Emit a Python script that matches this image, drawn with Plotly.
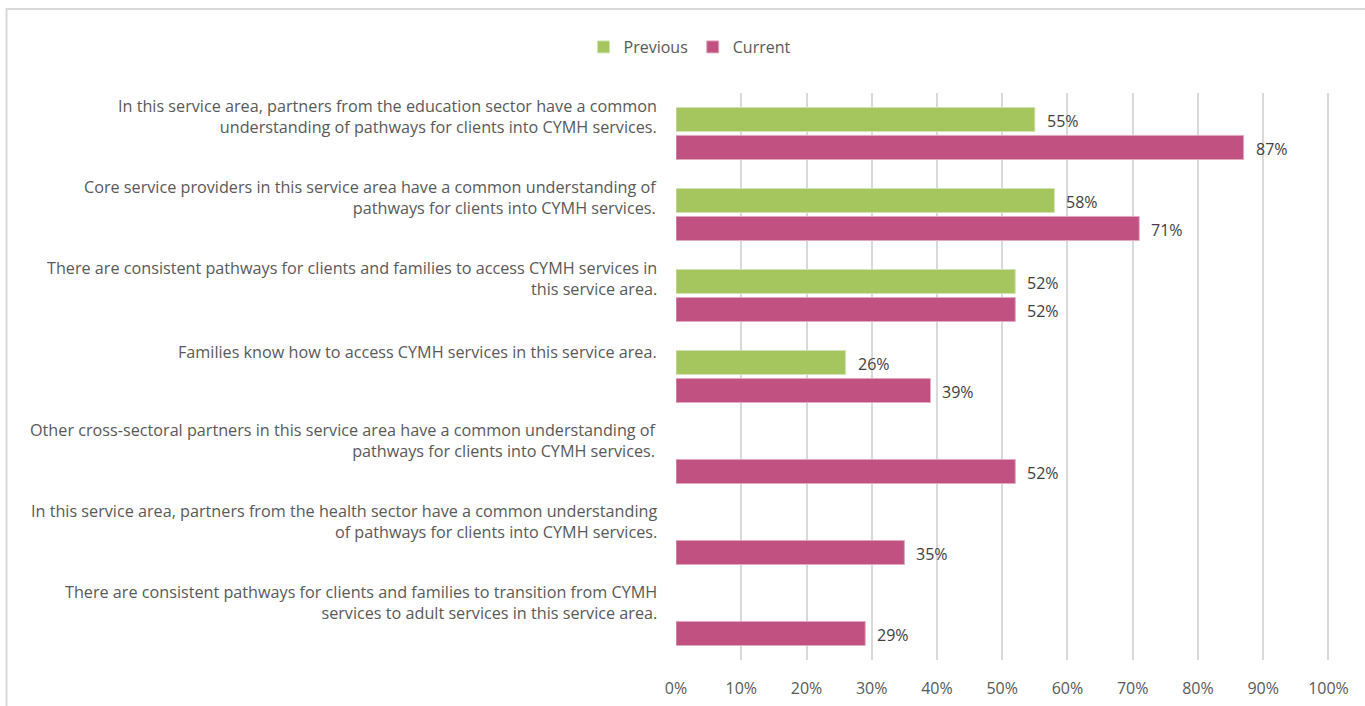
import plotly.graph_objects as go

# Survey statements (top to bottom) and agreement shares in percent
statements = [
    "In this service area, partners from the education sector have a common<br>understanding of pathways for clients into CYMH services.",
    "Core service providers in this service area have a common understanding of<br>pathways for clients into CYMH services.",
    "There are consistent pathways for clients and families to access CYMH services in<br>this service area.",
    "Families know how to access CYMH services in this service area.",
    "Other cross-sectoral partners in this service area have a common understanding of<br>pathways for clients into CYMH services.",
    "In this service area, partners from the health sector have a common understanding<br>of pathways for clients into CYMH services.",
    "There are consistent pathways for clients and families to transition from CYMH<br>services to adult services in this service area.",
]
previous = [55, 58, 52, 26, None, None, None]
current = [87, 71, 52, 39, 52, 35, 29]
x_ticks = [0, 10, 20, 30, 40, 50, 60, 70, 80, 90, 100]

GREEN = "#A5C65F"
PINK = "#C05180"
TEXT = "#595959"
LABEL = "#404040"
GRID = "#D9D9D9"
FONT = "Open Sans"
LABEL_SIZE = 16.2
VALUE_SIZE = 16
TICK_SIZE = 16

W, H = 1365, 706
X_MAX = 101  # a little headroom so the 100% gridline is drawn
L, T, B = 676, 93, 46
pw = 652 * X_MAX / 100
R = W - L - pw
ph = H - T - B

pos = list(range(len(statements)))

fig = go.Figure()
fig.add_trace(go.Bar(
    name="Previous", y=pos, x=previous, orientation="h",
    marker=dict(color=GREEN, line=dict(color="#D4E3B5", width=1)),
))
fig.add_trace(go.Bar(
    name="Current", y=pos, x=current, orientation="h",
    marker=dict(color=PINK, line=dict(color="#E0A9BF", width=1)),
))

annotations = []
# category labels, right-aligned to the left of the plot area
for i, s in enumerate(statements):
    two_lines = "<br>" in s
    annotations.append(dict(
        xref="paper", yref="y", x=0, y=i, xanchor="right", yanchor="middle",
        xshift=-17, yshift=17 if two_lines else 25,
        text=s, showarrow=False, align="right",
        font=dict(family=FONT, size=LABEL_SIZE, color=TEXT),
    ))

# value labels at the end of each bar
for i in pos:
    for val, dy in ((previous[i], -14), (current[i], 14)):
        if val is None:
            continue
        annotations.append(dict(
            xref="x", yref="y", x=val, y=i, xanchor="left", yanchor="middle",
            xshift=10, yshift=-dy - 1, text=f"{val}%", showarrow=False,
            font=dict(family=FONT, size=VALUE_SIZE, color=LABEL),
        ))

def px_to_paper_x(px):
    return (px - L) / pw

def px_to_paper_y(py):
    return (H - B - py) / ph

fig.update_layout(
    width=W, height=H,
    margin=dict(l=L, r=R, t=T, b=B, autoexpand=False),
    paper_bgcolor="white", plot_bgcolor="white",
    barmode="group", bargap=0.31, bargroupgap=0.14,
    font=dict(family=FONT, size=TICK_SIZE, color=TEXT),
    showlegend=True,
    legend=dict(
        orientation="h", x=px_to_paper_x(690), y=px_to_paper_y(47),
        xanchor="center", yanchor="middle",
        font=dict(family=FONT, size=TICK_SIZE, color=TEXT),
        itemwidth=30, tracegroupgap=0,
    ),
    xaxis=dict(
        range=[0, X_MAX], tickvals=x_ticks, ticktext=[f"{v}%" for v in x_ticks],
        showgrid=True, gridcolor=GRID, gridwidth=2,
        zeroline=False, showline=False, ticks="",
        ticklabelstandoff=17,
        tickfont=dict(family=FONT, size=TICK_SIZE, color=TEXT),
        fixedrange=True,
    ),
    yaxis=dict(
        range=[len(statements) - 0.5, -0.5], showticklabels=False,
        showgrid=False, zeroline=False, showline=False, ticks="",
        fixedrange=True,
    ),
    annotations=annotations,
    shapes=[dict(
        type="rect", xref="paper", yref="paper",
        x0=px_to_paper_x(7), x1=px_to_paper_x(1375),
        y0=px_to_paper_y(720), y1=px_to_paper_y(9),
        line=dict(color=GRID, width=2), layer="below",
    )],
)

fig.write_html("out.html")
